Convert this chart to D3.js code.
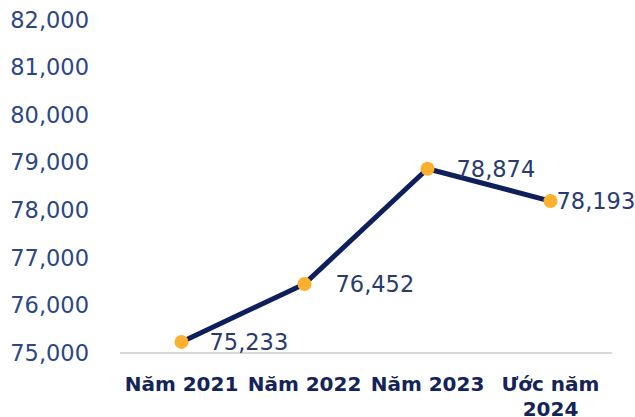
<!DOCTYPE html>
<html>
<head>
<meta charset="utf-8">
<script src="https://cdn.jsdelivr.net/npm/d3@7"></script>
<style>
  html, body { margin: 0; padding: 0; background: #ffffff; }
  svg { display: block; }
</style>
</head>
<body>
<svg id="chart" width="635" height="417"></svg>
<script>
// Series
const categories = ["Năm 2021", "Năm 2022", "Năm 2023", "Ước năm 2024"];
const values = [75233, 76452, 78874, 78193];
const yTicks = [75000, 76000, 77000, 78000, 79000, 80000, 81000, 82000];

const svg = d3.select("#chart");
const font = "'DejaVu Sans', sans-serif";

const margin = { left: 120, right: 23, top: 20, bottom: 64 };
const W = 635, H = 417;

const x = d3.scaleBand()
  .domain(categories)
  .range([margin.left, W - margin.right])
  .padding(0);

const y = d3.scaleLinear()
  .domain([75000, 82000])
  .range([H - margin.bottom, margin.top]);

// Y axis tick labels (no axis line)
const yAxis = d3.axisLeft(y)
  .tickValues(yTicks)
  .tickFormat(d3.format(","))
  .tickSize(0)
  .tickPadding(31);

const gy = svg.append("g")
  .attr("transform", `translate(${margin.left},0)`)
  .call(yAxis);
gy.select(".domain").remove();
gy.selectAll("text")
  .attr("fill", "#2c4785")
  .style("font-family", font)
  .style("font-size", "22.5px");

// Baseline
svg.append("line")
  .attr("x1", margin.left).attr("x2", W - margin.right)
  .attr("y1", y(75000)).attr("y2", y(75000))
  .attr("stroke", "#d9d9d9").attr("stroke-width", 2);

// X axis category labels
const xAxis = d3.axisBottom(x).tickSize(0).tickPadding(0);
const gx = svg.append("g")
  .attr("transform", `translate(0,${y(75000)})`)
  .call(xAxis);
gx.select(".domain").remove();
gx.selectAll("text").remove();
gx.selectAll(".tick").each(function(d) {
  const t = d3.select(this).append("text")
    .attr("text-anchor", "middle")
    .attr("fill", "#14245a")
    .style("font-family", font)
    .style("font-size", "20px")
    .style("font-weight", "700");
  const parts = d === "Ước năm 2024" ? ["Ước năm", "2024"] : [d];
  parts.forEach((p, i) => {
    t.append("tspan").attr("x", 0).attr("y", 38 + i * 25).text(p);
  });
});

const cx = d => x(d) + x.bandwidth() / 2;

// Line
const line = d3.line()
  .x((d, i) => cx(categories[i]))
  .y(d => y(d));

svg.append("path")
  .datum(values)
  .attr("d", line)
  .attr("fill", "none")
  .attr("stroke", "#0e1f5b")
  .attr("stroke-width", 5)
  .attr("stroke-linejoin", "round");

// Markers
svg.selectAll("circle.pt")
  .data(values)
  .join("circle")
  .attr("class", "pt")
  .attr("cx", (d, i) => cx(categories[i]))
  .attr("cy", d => y(d))
  .attr("r", 7)
  .attr("fill", "#fbb12d");

// Value labels
const labelDx = [28, 31, 29, 6];
svg.selectAll("text.val")
  .data(values)
  .join("text")
  .attr("class", "val")
  .attr("x", (d, i) => cx(categories[i]) + labelDx[i])
  .attr("y", d => y(d))
  .attr("dy", "0.36em")
  .attr("fill", "#2a3b6e")
  .style("font-family", font)
  .style("font-size", "22.5px")
  .text(d => d3.format(",")(d));
</script>
</body>
</html>
